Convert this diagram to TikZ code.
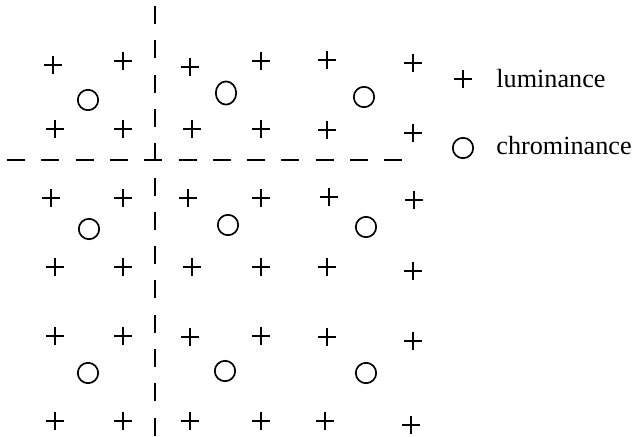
\documentclass[tikz,border=0pt]{standalone}
\usepackage{fontspec}
\setmainfont{Liberation Serif}
\usetikzlibrary{shapes.misc,shapes.geometric}

\tikzset{
  lum/.style={cross out,draw,rotate=45,minimum size=5.3pt,inner sep=0pt,line width=0.8pt},
  chrom/.style={circle,draw,minimum size=10.2pt,inner sep=0pt,line width=0.85pt},
  split/.style={line width=0.9pt,dash pattern=on 9pt off 8.15pt},
  key/.style={anchor=base west,inner sep=0pt,font=\fontsize{13.1}{16}\selectfont},
}

\begin{document}
\begin{tikzpicture}[x=0.5pt,y=-0.5pt]
\useasboundingbox (0,0) rectangle (632,436);

% block borders
\draw[split] (155,6) -- (155,436);
\draw[split] (7,160) -- (403,160);

% luminance samples
\foreach \x/\y [count=\i] in {53/65,123/61,190/67,261/61,327/60,413/63,
    55/129,123/129,192/129,261/129,327/130,413/133,
    51/198,123/198,188/198,261/198,329/197,414/200,
    55/267,123/267,192/267,261/267,327/267,413/271,
    55/336,123/336,190/337,261/336,327/337,413/341,
    55/421,123/421,190/421,261/421,325/421,411/425}
  \node[lum] (y\i) at (\x,\y) {};

% chrominance samples
\node[chrom] (c1) at (88,100) {};
\node[chrom,ellipse,minimum width=10.2pt,minimum height=11.6pt] (c2) at (226,93) {};
\node[chrom] (c3) at (364,97) {};
\node[chrom] (c4) at (89,229) {};
\node[chrom] (c5) at (228,225) {};
\node[chrom] (c6) at (366,227) {};
\node[chrom] (c7) at (88,373) {};
\node[chrom] (c8) at (225,371) {};
\node[chrom] (c9) at (366,373) {};

% legend
\node[lum] (keylum) at (463,79) {};
\node[key] (keylumtext) at (496,87) {luminance};
\node[chrom] (keychrom) at (463,148) {};
\node[key] (keychromtext) at (496,154) {chrominance};
\end{tikzpicture}
\end{document}
